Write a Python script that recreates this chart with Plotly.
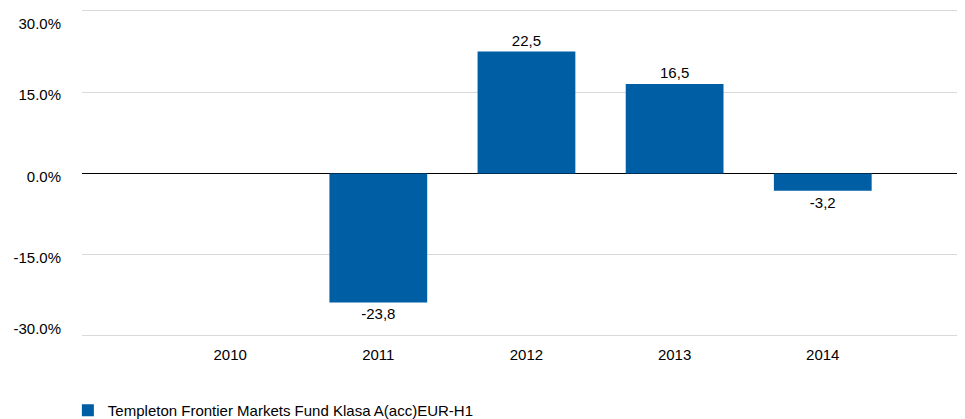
import plotly.graph_objects as go

years = ["2010", "2011", "2012", "2013", "2014"]
values = [None, -23.8, 22.5, 16.5, -3.2]
labels = ["", "-23,8", "22,5", "16,5", "-3,2"]
tick_vals = [-30, -15, 0, 15, 30]
tick_text = ["-30.0%<br> ", "-15.0%", "0.0%", "15.0%", "<br>30.0%"]
series_name = "Templeton Frontier Markets Fund Klasa A(acc)EUR-H1"

FONT = "Liberation Sans, Arial, sans-serif"

fig = go.Figure()
fig.add_trace(go.Bar(
    x=years, y=values, name=series_name,
    marker=dict(color="#005ea5", line=dict(width=0)),
    width=0.66,
    text=labels, textposition="outside", cliponaxis=False,
    textfont=dict(family=FONT, size=15, color="#000000"),
    showlegend=True,
))

fig.update_layout(
    width=965, height=419,
    margin=dict(l=74, r=8, t=0, b=87, autoexpand=False),
    paper_bgcolor="white", plot_bgcolor="white",
    font=dict(family=FONT, size=15, color="#000000"),
    showlegend=True,
    legend=dict(orientation="h", x=-0.016, xanchor="left", xref="paper",
                y=0.079, yanchor="top", yref="container",
                font=dict(size=15), itemsizing="constant"),
    xaxis=dict(type="category", range=[-1, 4.96], showgrid=False, showline=False,
               ticks="outside", ticklen=1, tickcolor="rgba(0,0,0,0)", zeroline=False,
               automargin=False),
    yaxis=dict(range=[-30.74, 30.55], tickvals=tick_vals, ticktext=tick_text,
               showgrid=True, gridcolor="#d9d9d9", gridwidth=1,
               zeroline=True, zerolinecolor="#000000", zerolinewidth=1,
               ticks="outside", ticklen=17, tickcolor="rgba(0,0,0,0)", showline=False,
               ticklabelshift=3, ticklabeloverflow="allow",
               automargin=False),
)

fig.write_html("out.html")
